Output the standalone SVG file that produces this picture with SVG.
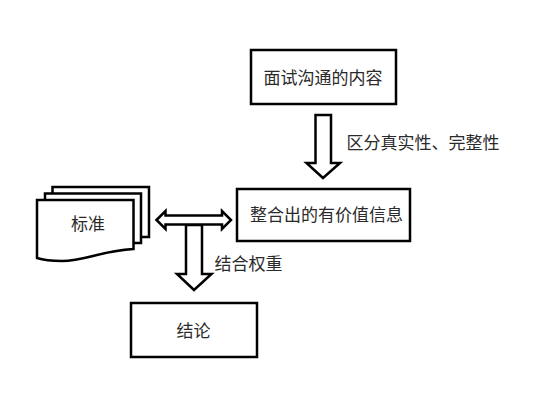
<svg xmlns="http://www.w3.org/2000/svg" width="534" height="416" viewBox="0 0 534 416">
<style>
.s{fill:#fff;stroke:#000;stroke-width:2.5;stroke-linejoin:miter}
.t{font-family:"Noto Sans CJK SC","Liberation Sans",sans-serif;font-size:17px;fill:#2a2a2a}
</style>
<rect width="534" height="416" fill="#fff"/>
<g id="connectors">
<path class="s" d="M315.500 115H331V163H340L323 178L306.500 163H315.500Z"/>
<path class="s" d="M186 225H202V274H211.500L194 290L177 274H186Z"/>
<path class="s" d="M156.500 220L165.500 211V215.500H222V211L231 220L222 229V224.500H165.500V229Z"/>
</g>
<g id="node-interview"><rect class="s" x="251" y="50" width="145" height="54"/><text class="t" x="263.500" y="84">面试沟通的内容</text></g>
<g id="node-info"><rect class="s" x="237" y="189" width="173" height="52"/><text class="t" x="250" y="221">整合出的有价值信息</text></g>
<g id="node-conclusion"><rect class="s" x="131" y="303" width="126" height="54"/><text class="t" x="176.500" y="337">结论</text></g>
<g id="node-standard">
<path class="s" d="M52.500 187H149V237H52.500Z"/>
<path class="s" d="M45 193.500H141V243H45Z"/>
<path class="s" d="M37 200H133.500V249C100 251 85 261 62 261C50 261 43 260 37 258Z"/>
<text class="t" x="71" y="230">标准</text>
</g>
<g id="labels">
<text class="t" x="346.500" y="149">区分真实性、完整性</text>
<text class="t" x="214.500" y="270">结合权重</text>
</g>
</svg>
